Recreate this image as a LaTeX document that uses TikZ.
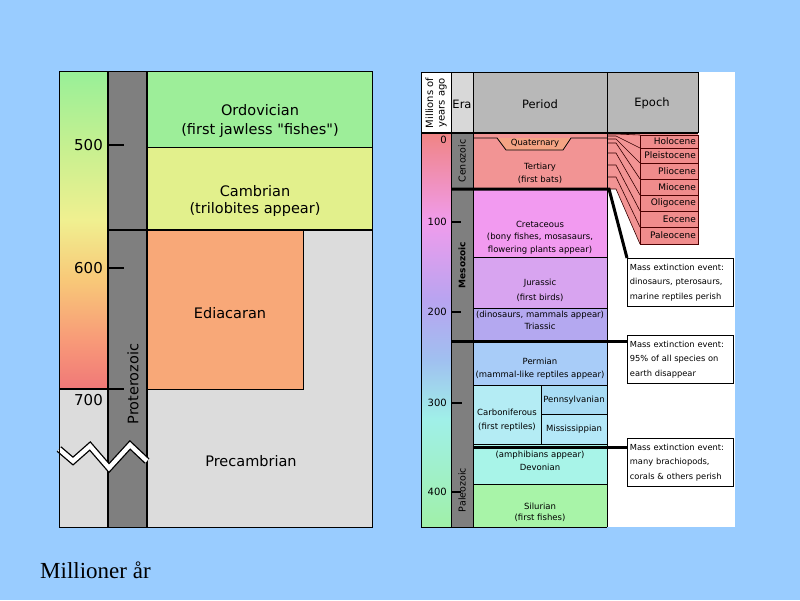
\documentclass[tikz,border=0pt]{standalone}
\usepackage{fontspec}
\setmainfont{Liberation Serif}
\newfontfamily\pix{DejaVu Sans}
\definecolor{bg}{HTML}{99CCFF}
\definecolor{lgray}{HTML}{DCDCDC}
\definecolor{dgray}{HTML}{7F7F7F}
\definecolor{ordo}{HTML}{9DEE99}
\definecolor{camb}{HTML}{E2F08C}
\definecolor{edia}{HTML}{F8A878}
\definecolor{tert}{HTML}{F29494}
\definecolor{quat}{HTML}{F4A484}
\definecolor{cret}{HTML}{F29AF0}
\definecolor{jura}{HTML}{D8A4F0}
\definecolor{tria}{HTML}{B4A8F0}
\definecolor{perm}{HTML}{A8CCF8}
\definecolor{carb}{HTML}{B4ECF4}
\definecolor{penn}{HTML}{A8DCF4}
\definecolor{miss}{HTML}{B4E8F8}
\definecolor{devo}{HTML}{A8F4E8}
\definecolor{silu}{HTML}{A8F4A8}
\definecolor{epbox}{HTML}{F08C8C}
\definecolor{headA}{HTML}{D8D8D8}
\definecolor{headB}{HTML}{B8B8B8}
% left bar colours
\definecolor{la}{HTML}{F07878}
\definecolor{lb}{HTML}{F89A78}
\definecolor{lc}{HTML}{F8C878}
\definecolor{ld}{HTML}{F0F090}
\definecolor{le}{HTML}{C8F090}
\definecolor{lf}{HTML}{98F098}
% right bar colours
\definecolor{ra}{HTML}{A0F0A8}
\definecolor{rb}{HTML}{A0F0E8}
\definecolor{rc}{HTML}{A0C0F0}
\definecolor{rd}{HTML}{B8A4F0}
\definecolor{re}{HTML}{F09CEC}
\definecolor{rf}{HTML}{F08484}
\pgfdeclareverticalshading{lbar}{100bp}{color(0bp)=(la); color(25bp)=(la); color(32.7bp)=(lb); color(42.1bp)=(lc); color(51.6bp)=(ld); color(62.6bp)=(le); color(75bp)=(lf); color(100bp)=(lf)}
\pgfdeclareverticalshading{rbar}{100bp}{color(0bp)=(ra); color(25bp)=(ra); color(38.6bp)=(rb); color(46.2bp)=(rc); color(53.8bp)=(rd); color(63.7bp)=(re); color(75bp)=(rf); color(100bp)=(rf)}
\begin{document}
\begin{tikzpicture}[x=1pt,y=-1pt,
  big/.style={inner sep=0pt, font=\pix\fontsize{14.5}{17}\selectfont},
  num/.style={inner sep=0pt, font=\pix\fontsize{15}{17}\selectfont, anchor=east},
  sm/.style={inner sep=0pt, font=\pix\fontsize{8.5}{10}\selectfont},
  rnum/.style={inner sep=0pt, font=\pix\fontsize{10}{12}\selectfont, anchor=east},
  hd/.style={inner sep=0pt, font=\pix\fontsize{11.5}{13}\selectfont},
  eratext/.style={inner sep=0pt, font=\pix\fontsize{9.5}{11}\selectfont, rotate=90},
  eptext/.style={inner sep=0pt, font=\pix\fontsize{9}{11}\selectfont, anchor=east},
  thin/.style={draw=black, line width=0.8pt},
  thickline/.style={draw=black, line width=3pt},
  funnel/.style={draw=black!80!red, line width=0.6pt},
  extbox/.style={draw=black, fill=white, line width=0.8pt, anchor=north west,
    minimum width=106pt, minimum height=48pt, text width=101pt, align=left,
    inner sep=2.5pt, font=\pix\fontsize{8.3}{14.5}\selectfont},
]
\useasboundingbox (0,0) rectangle (800,600);
\fill[bg] (0,0) rectangle (800,600);

%================ LEFT PANEL ================
\fill[lgray] (59,71) rectangle (372,527);
\shade[shading=lbar] (59,71) rectangle (108,389);
\fill[dgray] (108,71) rectangle (147,527);
\fill[ordo] (147,71) rectangle (372,147);
\fill[camb] (147,147) rectangle (372,230);
\fill[edia, draw=black, line width=0.9pt] (147,230) rectangle (303,389);
\draw[thin] (147,147) -- (372,147);
\draw[black, line width=1.6pt] (108,230) -- (372,230);
\draw[black, line width=1.2pt] (59,389) -- (124,389);
\draw[black, line width=1.6pt] (108,145) -- (124,145);
\draw[black, line width=1.6pt] (108,268) -- (124,268);
\draw[black, line width=1.2pt] (108,71) -- (108,527);
\draw[black, line width=1.2pt] (147,71) -- (147,527);
% break mark
\draw[black, line width=7pt, line join=miter] (59,449) -- (73,461) -- (90,446) -- (109,468) -- (130,445) -- (147,461);
\draw[white, line width=4.4pt, line join=miter] (59,449) -- (73,461) -- (90,446) -- (109,468) -- (130,445) -- (147,461);
\draw[black, line width=0.8pt] (59,71) rectangle (372,527);

\node[num] (n500) at (103,145) {500};
\node[num] (n600) at (103,268) {600};
\node[num] (n700) at (103,400) {700};
\node[big] (ordo) at (260,110) {Ordovician};
\node[big] (ordo2) at (260,130) {(first jawless "fishes")};
\node[big] (camb) at (255,191) {Cambrian};
\node[big] (camb2) at (255,209) {(trilobites appear)};
\node[big] (edia) at (230,313) {Ediacaran};
\node[big] (prec) at (251,461) {Precambrian};
\node[big, rotate=90] (prot) at (133,384) {Proterozoic};

%================ RIGHT PANEL ================
\fill[white] (421,72) rectangle (735,527);
% headers
\fill[white] (421,72) rectangle (451,133);
\fill[headA] (451,72) rectangle (473,133);
\fill[headB] (473,72) rectangle (607,133);
\fill[headB] (607,72) rectangle (698,133);
% scale bar
\shade[shading=rbar] (421,133) rectangle (451,527);
\fill[dgray] (451,133) rectangle (473,527);
% periods
\fill[tert] (473,133) rectangle (607,189);
\fill[quat] (497,138) -- (506,150) -- (563,150) -- (571,138) -- cycle;
\draw[thin] (473,138) -- (497,138) -- (506,150) -- (563,150) -- (571,138) -- (607,138);
\fill[cret] (473,189) rectangle (607,257);
\fill[jura] (473,257) rectangle (607,308);
\fill[tria] (473,308) rectangle (607,341);
\fill[perm] (473,341) rectangle (607,385);
\fill[carb] (473,385) rectangle (541,445);
\fill[penn] (541,385) rectangle (607,414);
\fill[miss] (541,414) rectangle (607,445);
\fill[devo] (473,445) rectangle (607,484);
\fill[silu] (473,484) rectangle (607,527);
\draw[thin] (473,257) -- (607,257);
\draw[thin] (473,308) -- (607,308);
\draw[thin] (473,385) -- (607,385);
\draw[thin] (541,385) -- (541,445);
\draw[thin] (541,414) -- (607,414);
\draw[thin] (473,444) -- (607,444);
\draw[thin] (473,484) -- (607,484);
% epoch funnel
\fill[tert] (607,133) -- (698,133) -- (698,244) -- (640,244) -- (616,189) -- (607,189) -- cycle;
\foreach \l/\r in {134/135,136/148,139/163,143/179,153/195,165/211,177/227,189/244}
  \draw[funnel] (607,\l) -- (616,\l) -- (640,\r);
\foreach \nm/\yt/\yb in {Holocene/135/148,Pleistocene/148/163,Pliocene/163/179,Miocene/179/195,Oligocene/195/211,Eocene/211/227,Paleocene/227/244}{
  \fill[epbox, draw=black!70!red, line width=0.7pt] (640,\yt) rectangle (698,\yb);
  \node[eptext] (ep\nm) at (696,{(\yt+\yb)/2}) {\nm};
}
% grid lines
\draw[thin] (421,72) -- (698,72);
\draw[thin] (421,72) -- (421,527);
\draw[thin] (451,72) -- (451,527);
\draw[thin] (473,72) -- (473,527);
\draw[thin] (607,72) -- (607,527);
\draw[thin] (698,72) -- (698,133);
\draw[thin] (421,527) -- (607,527);
\draw[black, line width=2pt] (421,133) -- (698,133);
% ticks
\draw[black, line width=1.2pt] (451,222) -- (461,222);
\draw[black, line width=1.2pt] (451,312) -- (461,312);
\draw[black, line width=2.2pt] (451,403) -- (462,403);
\draw[black, line width=1.2pt] (451,492) -- (461,492);
% header texts
\node[sm, rotate=90, align=center, font=\pix\fontsize{10}{11.5}\selectfont] (myhd) at (436,103) {Millions of\\years ago};
\node[hd] (erahd) at (462,104) {Era};
\node[hd] (perhd) at (540,104) {Period};
\node[hd] (ephd) at (652,103) {Epoch};
% scale numbers
\node[rnum] (r0) at (447,140) {0};
\node[rnum] (r100) at (447,222) {100};
\node[rnum] (r200) at (447,312) {200};
\node[rnum] (r300) at (447,403) {300};
\node[rnum] (r400) at (447,492) {400};
% eras
\node[eratext] (ceno) at (462,161) {Cenozoic};
\node[eratext, font=\pix\bfseries\fontsize{9}{11}\selectfont] (meso) at (462,265) {Mesozoic};
\node[eratext] (paleo) at (462,490) {Paleozoic};
% period texts
\node[sm] (quat) at (535,143) {Quaternary};
\node[sm] (tert) at (540,167) {Tertiary};
\node[sm] (tert2) at (540,180) {(first bats)};
\node[sm] (cret) at (540,224) {Cretaceous};
\node[sm] (cret2) at (540,237) {(bony fishes, mosasaurs,};
\node[sm] (cret3) at (540,250) {flowering plants appear)};
\node[sm] (jura) at (540,283) {Jurassic};
\node[sm] (jura2) at (540,298) {(first birds)};
\node[sm] (tria2) at (540,315) {(dinosaurs, mammals appear)};
\node[sm] (tria) at (540,326) {Triassic};
\node[sm] (perm) at (540,361) {Permian};
\node[sm] (perm2) at (540,375) {(mammal-like reptiles appear)};
\node[sm] (carb) at (507,412) {Carboniferous};
\node[sm] (carb2) at (507,427) {(first reptiles)};
\node[sm] (penn) at (574,400) {Pennsylvanian};
\node[sm] (miss) at (574,429) {Mississippian};
\node[sm] (devo2) at (540,455) {(amphibians appear)};
\node[sm] (devo) at (540,467) {Devonian};
\node[sm] (silu) at (540,506) {Silurian};
\node[sm] (silu2) at (540,518) {(first fishes)};
% extinction boxes
\node[extbox] (ext1) at (627,258) {Mass extinction event:\\dinosaurs, pterosaurs,\\marine reptiles perish};
\node[extbox] (ext2) at (627,335) {Mass extinction event:\\95\% of all species on\\earth disappear};
\node[extbox] (ext3) at (627,438) {Mass extinction event:\\many brachiopods,\\corals \& others perish};
\coordinate (k1) at (451,189);
\coordinate (k1b) at (609,189);
\coordinate (k2) at (451,341);
\coordinate (k3) at (473,447);
\draw[thickline, line join=miter] (k1) -- (k1b) -- (ext1.north west);
\draw[thickline] (k2) -- (k2 -| ext2.west);
\draw[thickline] (k3) -- (k3 -| ext3.west);

%================ CAPTION ================
\node[anchor=base west, inner sep=0pt, font=\fontsize{23}{26}\selectfont] (cap) at (40,578) {Millioner år};
\end{tikzpicture}
\end{document}
